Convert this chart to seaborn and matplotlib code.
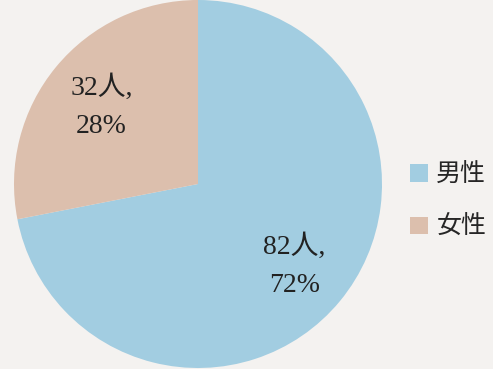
import matplotlib
matplotlib.use("Agg")
import matplotlib.pyplot as plt
import seaborn as sns
import numpy as np
from matplotlib.patches import Patch

categories = ["男性", "女性"]
counts = [82, 32]
percents = [72, 28]
colors = ["#a2cde1", "#dcbfad"]

sns.set_style("white")
plt.rcParams['font.family'] = ['Noto Sans CJK JP', 'DejaVu Sans']

fig = plt.figure(figsize=(4.93, 3.69), dpi=100, facecolor="#f4f2f0")
ax = fig.add_axes([14 / 493, 1 / 369, 368 / 493, 368 / 369])
ax.set_facecolor("none")

wedges, _ = ax.pie(counts, colors=colors, startangle=90, counterclock=False,
                   wedgeprops=dict(linewidth=0), radius=1.0)
ax.set_xlim(-1, 1)
ax.set_ylim(-1, 1)
ax.set_aspect("equal")

total = sum(counts)
ang = 90.0
for c, p in zip(counts, percents):
    span = c / total * 360
    mid = np.deg2rad(ang - span / 2)
    ang -= span
    ax.text(0.68 * np.cos(mid), 0.68 * np.sin(mid) - 0.01, f"{c}人,\n{p}%",
            ha="center", va="center", fontsize=20, linespacing=1.7,
            color="#222222", family=['Liberation Serif', 'Noto Sans CJK JP'])

handles = [Patch(facecolor=col, edgecolor="none") for col in colors]
fig.legend(handles, categories, loc="center left",
           bbox_to_anchor=(410 / 493, 1 - 201 / 369), frameon=False,
           fontsize=18, handlelength=0.7, handleheight=0.7,
           handletextpad=0.35, labelspacing=1.05, borderpad=0,
           borderaxespad=0)

fig.savefig("out.png", dpi=100, facecolor=fig.get_facecolor())
